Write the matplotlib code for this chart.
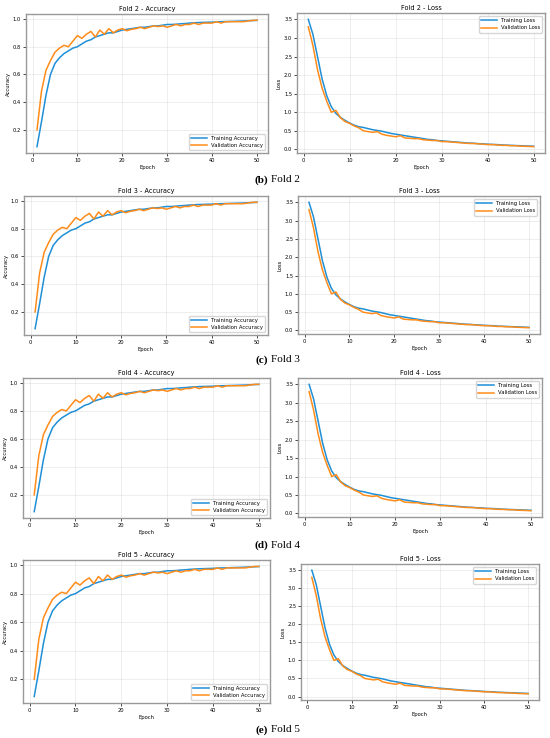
import numpy as np
import matplotlib.pyplot as plt

epochs = list(range(1, 51))
folds = ['2', '3', '4', '5']
letters = ['b', 'c', 'd', 'e']

train_acc = [0.08, 0.26, 0.45, 0.60, 0.68, 0.72, 0.75, 0.77, 0.79, 0.80,
             0.82, 0.84, 0.85, 0.87, 0.88, 0.89, 0.90, 0.90, 0.91, 0.92,
             0.925, 0.93, 0.935, 0.94, 0.94, 0.945, 0.95, 0.95, 0.955, 0.96,
             0.96, 0.962, 0.965, 0.967, 0.97, 0.972, 0.974, 0.975, 0.976, 0.977,
             0.979, 0.98, 0.981, 0.982, 0.983, 0.984, 0.985, 0.987, 0.988, 0.99]
val_acc = [0.20, 0.48, 0.63, 0.70, 0.76, 0.79, 0.81, 0.80, 0.84, 0.88,
           0.86, 0.89, 0.91, 0.87, 0.92, 0.89, 0.93, 0.90, 0.92, 0.93,
           0.915, 0.925, 0.93, 0.94, 0.93, 0.94, 0.95, 0.945, 0.95, 0.94,
           0.95, 0.96, 0.95, 0.96, 0.96, 0.97, 0.96, 0.97, 0.97, 0.97,
           0.98, 0.97, 0.98, 0.98, 0.98, 0.98, 0.98, 0.985, 0.99, 0.99]
train_loss = [3.5, 3.1, 2.5, 1.9, 1.45, 1.15, 0.97, 0.86, 0.78, 0.71,
              0.65, 0.61, 0.59, 0.56, 0.53, 0.51, 0.49, 0.46, 0.43, 0.41,
              0.39, 0.37, 0.35, 0.33, 0.31, 0.29, 0.27, 0.26, 0.24, 0.23,
              0.22, 0.21, 0.20, 0.19, 0.18, 0.17, 0.165, 0.155, 0.15, 0.14,
              0.135, 0.13, 0.12, 0.115, 0.11, 0.105, 0.10, 0.095, 0.09, 0.085]
val_loss = [3.3, 2.8, 2.15, 1.65, 1.3, 1.0, 1.05, 0.85, 0.75, 0.70,
            0.63, 0.58, 0.50, 0.48, 0.46, 0.48, 0.41, 0.38, 0.36, 0.34,
            0.37, 0.31, 0.30, 0.29, 0.29, 0.26, 0.25, 0.24, 0.24, 0.21,
            0.21, 0.20, 0.19, 0.18, 0.17, 0.16, 0.16, 0.15, 0.14, 0.13,
            0.13, 0.12, 0.11, 0.11, 0.10, 0.10, 0.09, 0.085, 0.08, 0.075]

W, H = 550, 738
fig = plt.figure(figsize=(W/100, H/100), dpi=100)

# axes boxes in pixels (x0, y0, x1, y1), y measured from top
left_boxes = [(26, 14, 268, 153), (24, 196, 268, 335), (23, 378, 270, 518), (23, 560, 270, 703)]
right_boxes = [(297, 13, 545, 153), (298, 196, 540, 334), (298, 378, 542, 517), (301, 564, 539, 700)]
caption_y = [180, 360, 545, 730]

def px(b):
    x0, y0, x1, y1 = b
    return [x0/W, 1 - y1/H, (x1-x0)/W, (y1-y0)/H]

def style(ax):
    ax.grid(True, alpha=0.3, linewidth=0.5)
    ax.tick_params(labelsize=3.7, length=2, width=0.5, pad=1.5)
    for s in ax.spines.values():
        s.set_color('#999999')
        s.set_linewidth(1.0)

for i, f in enumerate(folds):
    ax = fig.add_axes(px(left_boxes[i]))
    ax.plot(epochs, train_acc, color='#1f8fd6', lw=1.1, label='Training Accuracy')
    ax.plot(epochs, val_acc, color='#ff8c1a', lw=1.1, label='Validation Accuracy')
    ax.set_title('Fold ' + f + ' - Accuracy', fontsize=4.7, pad=2.5)
    ax.set_xlabel('Epoch', fontsize=3.8, labelpad=1.5)
    ax.set_ylabel('Accuracy', fontsize=3.8, labelpad=1.5)
    ax.legend(loc='lower right', fontsize=3.8, handlelength=3)
    style(ax)

    ax = fig.add_axes(px(right_boxes[i]))
    ax.plot(epochs, train_loss, color='#1f8fd6', lw=1.1, label='Training Loss')
    ax.plot(epochs, val_loss, color='#ff8c1a', lw=1.1, label='Validation Loss')
    ax.set_title('Fold ' + f + ' - Loss', fontsize=4.7, pad=2.5)
    ax.set_xlabel('Epoch', fontsize=3.8, labelpad=1.5)
    ax.set_ylabel('Loss', fontsize=3.8, labelpad=1.5)
    ax.legend(loc='upper right', fontsize=3.8, handlelength=3)
    style(ax)

    yc = 1 - caption_y[i]/H
    fig.text(268/W, yc, '(' + letters[i] + ')', fontsize=8, fontweight='bold',
             family='Liberation Serif', ha='right', va='center')
    fig.text(271/W, yc, 'Fold ' + f, fontsize=8,
             family='Liberation Serif', ha='left', va='center')

fig.savefig('out.png', dpi=100)
